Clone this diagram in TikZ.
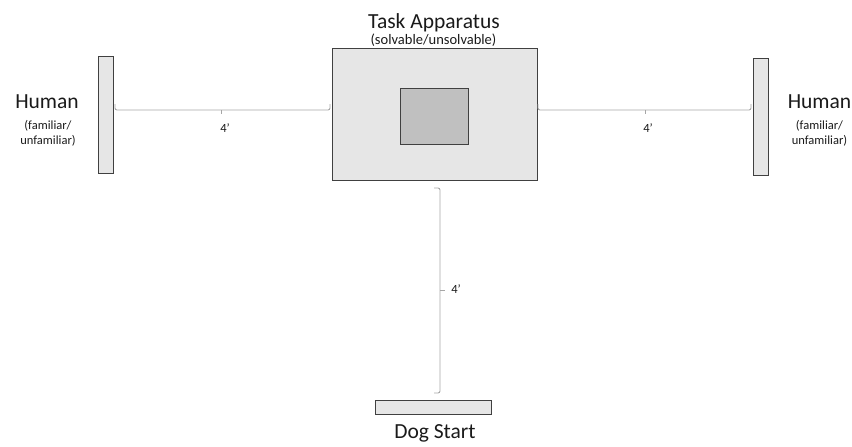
\documentclass[tikz,border=0pt]{standalone}
\usepackage{fontspec}
\setmainfont{Carlito}
\definecolor{barfill}{HTML}{E6E6E6}
\definecolor{innerfill}{HTML}{C0C0C0}
\definecolor{edgecol}{HTML}{404040}
\definecolor{bracecol}{HTML}{A6A6A6}
\definecolor{txt}{HTML}{1A1A1A}
\tikzset{
  bar/.style={draw=edgecol, fill=barfill, line width=0.9pt, inner sep=0pt, minimum width=#1},
  dimline/.style={draw=bracecol, line width=0.9pt, rounded corners=2pt},
  bigtxt/.style={text=txt, font=\fontsize{21.5}{24}\selectfont, inner sep=0pt, anchor=base},
  smalltxt/.style={text=txt, font=\fontsize{12.5}{13.5}\selectfont, inner sep=0pt, anchor=base},
  midtxt/.style={text=txt, font=\fontsize{14.5}{15}\selectfont, inner sep=0pt, anchor=base},
  dimtxt/.style={text=txt, font=\fontsize{12.5}{13.5}\selectfont, inner sep=0pt, anchor=base}
}
\begin{document}
\begin{tikzpicture}[x=1pt,y=-1pt]
\useasboundingbox (0,0) rectangle (852,447);
% bars
\node[bar=15pt, minimum height=117pt] (hl) at (105.5,114.5) {};
\node[bar=15pt, minimum height=117pt] (hr) at (760.5,116.5) {};
\node[bar=205pt, minimum height=132pt] (task) at (434.5,114) {};
\node[draw=edgecol, fill=innerfill, line width=0.9pt, minimum width=68pt, minimum height=56pt, inner sep=0pt] (inner) at (434,116) {};
\node[bar=116pt, minimum height=14pt] (dog) at (433,407) {};
% texts
\node[bigtxt] (humanl) at (47,108) {Human};
\node[smalltxt] (subl1) at (48,129) {(familiar/};
\node[smalltxt] (subl2) at (48,144) {unfamiliar)};
\node[bigtxt] (humanr) at (819.5,108) {Human};
\node[smalltxt] (subr1) at (819.5,129) {(familiar/};
\node[smalltxt] (subr2) at (819.5,144) {unfamiliar)};
\node[bigtxt] (taskt) at (434,28) {Task Apparatus};
\node[midtxt] (tasks) at (433.5,44) {(solvable/unsolvable)};
\node[bigtxt] (dogt) at (435,438) {Dog Start};
% dimension brackets
\coordinate (lb1) at (115,104);
\coordinate (lb2) at (330,104);
\coordinate (lbm) at (221,110);
\coordinate (rb1) at (538,104);
\coordinate (rb2) at (751,104);
\coordinate (rbm) at (645,110);
\coordinate (vb1) at (434,188);
\coordinate (vb2) at (434,393);
\coordinate (vbm) at (440,290);
\draw[dimline] (lb1) |- (lbm) -| (lb2);
\draw[dimline] (rb1) |- (rbm) -| (rb2);
\draw[dimline] (vb1) -| (vbm) |- (vb2);
\draw[draw=bracecol, line width=0.9pt] (lbm) -- ++(0,4);
\draw[draw=bracecol, line width=0.9pt] (rbm) -- ++(0,4);
\draw[draw=bracecol, line width=0.9pt] (vbm) -- ++(5,0);
\node[dimtxt] (dl) at (225,132) {4’};
\node[dimtxt] (dr) at (648,132) {4’};
\node[dimtxt] (dv) at (456,293) {4’};
\end{tikzpicture}
\end{document}
